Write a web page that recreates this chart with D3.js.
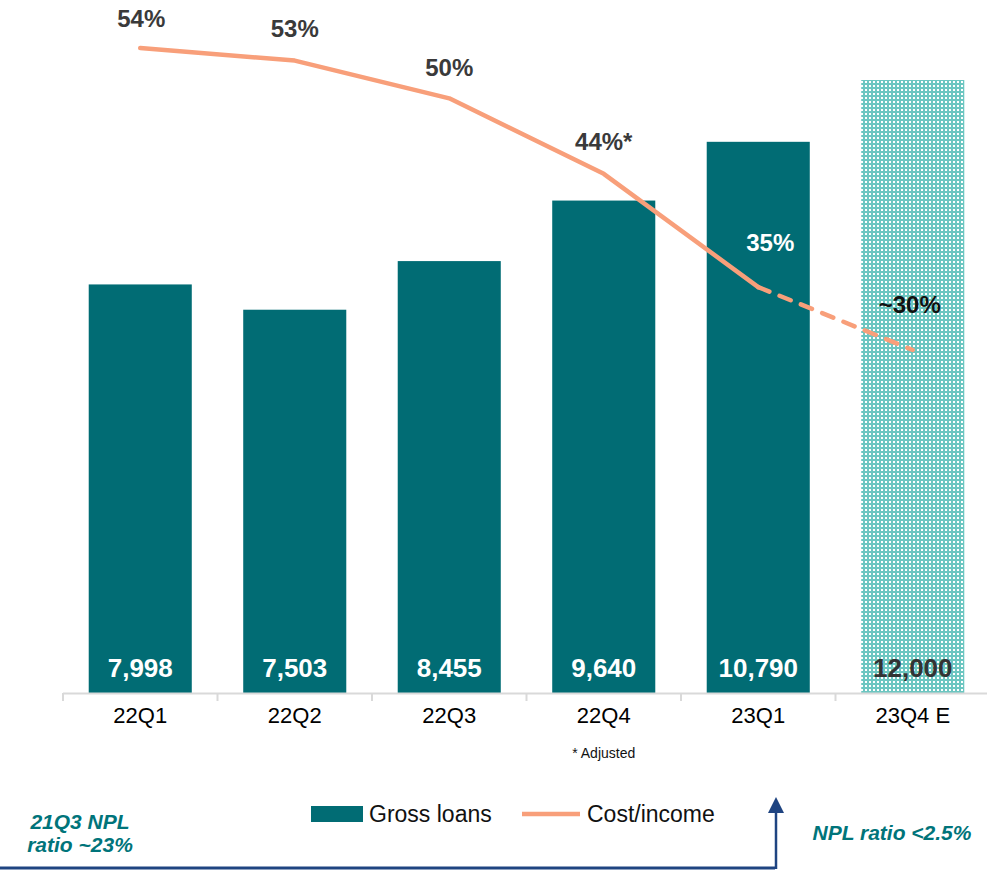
<!DOCTYPE html>
<html>
<head>
<meta charset="utf-8">
<script src="https://cdn.jsdelivr.net/npm/d3@7"></script>
<style>
  body { margin: 0; background: #fff; }
  svg { display: block; font-family: "Liberation Sans", Arial, sans-serif; }
</style>
</head>
<body>
<div id="chart"></div>
<script>
// data
var quarters = ["22Q1", "22Q2", "22Q3", "22Q4", "23Q1", "23Q4 E"];
var grossLoans = [7998, 7503, 8455, 9640, 10790, 12000];
var loanLabels = ["7,998", "7,503", "8,455", "9,640", "10,790", "12,000"];
var costIncome = [54, 53, 50, 44, 35, 30];
var costLabels = ["54%", "53%", "50%", "44%*", "35%", "~30%"];
var estimated = [false, false, false, false, false, true];

var width = 987, height = 870;
var barColor = "#016c74", hatchColor = "#6cc6c1", lineColor = "#f89f7a";

var svg = d3.select("#chart").append("svg")
    .attr("width", width)
    .attr("height", height);

// hatched fill for the estimate bar
var pat = svg.append("defs").append("pattern")
    .attr("id", "dots")
    .attr("patternUnits", "userSpaceOnUse")
    .attr("width", 4).attr("height", 4);
pat.append("rect").attr("width", 4).attr("height", 4).attr("fill", hatchColor);
pat.append("rect").attr("x", 1).attr("y", 1).attr("width", 2).attr("height", 2).attr("fill", "#fff");

// scales
var x = d3.scaleBand().domain(quarters).range([63, 990])
    .paddingInner(0.333).paddingOuter(0.1665);
var y = d3.scaleLinear().domain([0, 12000]).range([693, 80]);
var y2 = d3.scaleLinear().domain([30, 54]).range([350, 48]);

// bars
svg.selectAll(".bar")
    .data(quarters)
    .enter().append("rect")
    .attr("class", "bar")
    .attr("x", function(d) { return x(d); })
    .attr("width", x.bandwidth())
    .attr("y", function(d, i) { return y(grossLoans[i]); })
    .attr("height", function(d, i) { return y(0) - y(grossLoans[i]); })
    .attr("fill", function(d, i) { return estimated[i] ? "url(#dots)" : barColor; });

// bar value labels
svg.selectAll(".barlabel")
    .data(quarters)
    .enter().append("text")
    .attr("x", function(d) { return x(d) + x.bandwidth() / 2; })
    .attr("y", y(0) - 16)
    .attr("text-anchor", "middle")
    .style("font-size", "26px")
    .style("font-weight", "bold")
    .attr("fill", function(d, i) { return estimated[i] ? "#333" : "#fff"; })
    .text(function(d, i) { return loanLabels[i]; });

// x axis
var axisY = y(0);
svg.append("line")
    .attr("x1", x.range()[0]).attr("x2", width)
    .attr("y1", axisY + 0.5).attr("y2", axisY + 0.5)
    .attr("stroke", "#d9d9d9").attr("stroke-width", 2);
svg.selectAll(".tick")
    .data(d3.range(quarters.length + 1))
    .enter().append("line")
    .attr("x1", function(i) { return x.range()[0] + i * x.step(); })
    .attr("x2", function(i) { return x.range()[0] + i * x.step(); })
    .attr("y1", axisY).attr("y2", axisY + 8)
    .attr("stroke", "#d9d9d9").attr("stroke-width", 2);

var xAxis = svg.append("g")
    .attr("transform", "translate(0," + axisY + ")")
    .call(d3.axisBottom(x).tickSize(0).tickPadding(14));
xAxis.select(".domain").remove();
xAxis.selectAll("text")
    .style("font-size", "22px")
    .style("font-family", "Liberation Sans, Arial, sans-serif")
    .attr("fill", "#000");

svg.append("text")
    .attr("x", x("22Q4") + x.bandwidth() / 2)
    .attr("y", 758)
    .attr("text-anchor", "middle")
    .style("font-size", "14px")
    .attr("fill", "#111")
    .text("* Adjusted");

// cost/income line: solid for actuals, dashed to the estimate
var pts = quarters.map(function(d, i) {
  return [x(d) + x.bandwidth() / 2, y2(costIncome[i])];
});
var line = d3.line();
svg.append("path")
    .attr("d", line(pts.slice(0, 5)))
    .attr("fill", "none")
    .attr("stroke", lineColor)
    .attr("stroke-width", 4.5)
    .attr("stroke-linejoin", "round")
    .attr("stroke-linecap", "round");
svg.append("path")
    .attr("d", line(pts.slice(4)))
    .attr("fill", "none")
    .attr("stroke", lineColor)
    .attr("stroke-width", 4.5)
    .attr("stroke-dasharray", "12,11")
    .attr("stroke-linecap", "round");

// line labels
var labelShift = [[1, -21], [0, -24], [0, -22], [0, -24], [12, -36], [-3, -37]];
svg.selectAll(".pctlabel")
    .data(quarters)
    .enter().append("text")
    .attr("x", function(d, i) { return pts[i][0] + labelShift[i][0]; })
    .attr("y", function(d, i) { return pts[i][1] + labelShift[i][1]; })
    .attr("text-anchor", "middle")
    .style("font-size", "24px")
    .style("font-weight", "bold")
    .attr("fill", function(d, i) { return i === 4 ? "#fff" : (i === 5 ? "#111" : "#3a3a3a"); })
    .text(function(d, i) { return costLabels[i]; });

// legend
var lg = svg.append("g");
lg.append("rect").attr("x", 311).attr("y", 806).attr("width", 52).attr("height", 16).attr("fill", barColor);
lg.append("text").attr("x", 369).attr("y", 822).style("font-size", "23px").attr("fill", "#111").text("Gross loans");
lg.append("line").attr("x1", 522).attr("x2", 580).attr("y1", 814).attr("y2", 814)
    .attr("stroke", lineColor).attr("stroke-width", 4.5);
lg.append("text").attr("x", 587).attr("y", 822).style("font-size", "23px").attr("fill", "#111").text("Cost/income");

// NPL annotation
var navy = "#1f4481", teal = "#00747a";
svg.append("line").attr("x1", 0).attr("x2", 775).attr("y1", 868).attr("y2", 868)
    .attr("stroke", navy).attr("stroke-width", 3);
svg.append("line").attr("x1", 776).attr("x2", 776).attr("y1", 869).attr("y2", 810)
    .attr("stroke", navy).attr("stroke-width", 2.5);
svg.append("path").attr("d", "M768,813 L776,797 L784,813 Z").attr("fill", navy);

var noteStyle = function(t) {
  t.style("font-size", "21px").style("font-weight", "bold").style("font-style", "italic").attr("fill", teal);
};
svg.append("text").attr("x", 80).attr("y", 829).attr("text-anchor", "middle").call(noteStyle).text("21Q3 NPL");
svg.append("text").attr("x", 80).attr("y", 852).attr("text-anchor", "middle").call(noteStyle).text("ratio ~23%");
svg.append("text").attr("x", 892).attr("y", 840).attr("text-anchor", "middle").call(noteStyle).text("NPL ratio <2.5%");
</script>
</body>
</html>
